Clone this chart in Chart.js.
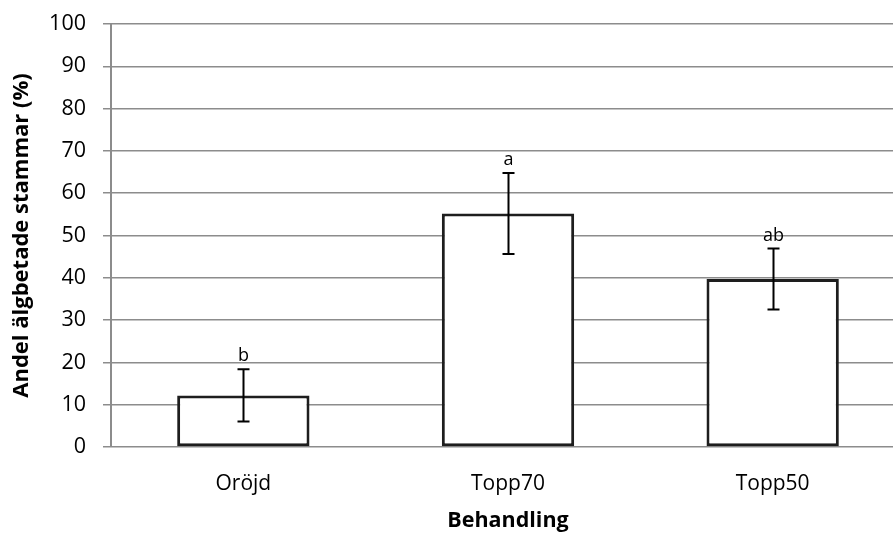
<!DOCTYPE html>
<html>
<head>
<meta charset="utf-8">
<title>Andel älgbetade stammar</title>
<script src="https://cdn.jsdelivr.net/npm/chart.js@4/dist/chart.umd.min.js"></script>
<style>
  html, body { margin: 0; padding: 0; background: #fff; overflow: hidden; }
  #wrap { width: 893px; height: 533px; overflow: hidden; }
</style>
</head>
<body>
<div id="wrap"><canvas id="chart" width="905" height="533"></canvas></div>
<script>
const categories = ['Oröjd', 'Topp70', 'Topp50'];
const shares = [12.2, 55.2, 39.7];
const shareErrors = [6.2, 9.6, 7.2];
const groupLetters = ['b', 'a', 'ab'];
const yTicks = [0, 10, 20, 30, 40, 50, 60, 70, 80, 90, 100];

const FONT = '"Open Sans", "DejaVu Sans", sans-serif';
const GRID = '#8c8c8c';

// error bars plus the significance letters above them
const errorBars = {
  id: 'errorBars',
  afterDatasetsDraw(chart) {
    const ctx = chart.ctx;
    const y = chart.scales.y;
    const meta = chart.getDatasetMeta(0);
    ctx.save();
    ctx.strokeStyle = '#000';
    ctx.lineWidth = 2;
    meta.data.forEach((bar, i) => {
      const x = Math.round(bar.x) + 0.5;
      const top = y.getPixelForValue(shares[i] + shareErrors[i]);
      const bottom = y.getPixelForValue(shares[i] - shareErrors[i]);
      ctx.beginPath();
      ctx.moveTo(x, top);
      ctx.lineTo(x, bottom);
      ctx.moveTo(x - 6, top);
      ctx.lineTo(x + 6, top);
      ctx.moveTo(x - 6, bottom);
      ctx.lineTo(x + 6, bottom);
      ctx.stroke();

      ctx.fillStyle = '#000';
      ctx.font = '18px ' + FONT;
      ctx.textAlign = 'center';
      ctx.textBaseline = 'alphabetic';
      ctx.fillText(groupLetters[i], x, top - 8);
    });
    ctx.restore();
  }
};

new Chart(document.getElementById('chart'), {
  type: 'bar',
  data: {
    labels: categories,
    datasets: [{
      data: shares,
      backgroundColor: '#ffffff',
      borderColor: '#1e1e1e',
      borderWidth: 3,
      borderSkipped: false,
      barPercentage: 0.5,
      categoryPercentage: 1
    }]
  },
  options: {
    responsive: false,
    animation: false,
    devicePixelRatio: 1,
    layout: { padding: { top: 24, left: 0, right: 0, bottom: 0 } },
    plugins: { legend: { display: false }, tooltip: { enabled: false } },
    scales: {
      x: {
        grid: { display: false, drawTicks: false },
        border: { display: false },
        ticks: { color: '#000', font: { family: FONT, size: 21 }, padding: 24 },
        title: {
          display: true,
          text: 'Behandling',
          color: '#000',
          font: { family: FONT, size: 21.5, weight: 'bold', lineHeight: 1 },
          padding: { top: 0, bottom: 1 }
        },
        afterFit(scale) {
          scale.height = 86;
          scale.paddingLeft = 0;
          scale.paddingRight = 0;
        }
      },
      y: {
        min: 0,
        max: 100,
        afterBuildTicks(scale) { scale.ticks = yTicks.map(v => ({ value: v })); },
        grid: { color: GRID, lineWidth: 1.5, tickLength: 8 },
        border: { color: GRID, width: 2 },
        ticks: { color: '#000', font: { family: FONT, size: 21.5 }, padding: 17 },
        title: {
          display: true,
          text: 'Andel älgbetade stammar (%)',
          color: '#000',
          font: { family: FONT, size: 22, weight: 'bold', lineHeight: 1.2 },
          padding: { top: 9, bottom: 0 }
        },
        afterFit(scale) {
          scale.width = 111;
          scale.paddingTop = 0;
          scale.paddingBottom = 0;
        }
      }
    }
  },
  plugins: [errorBars]
});
</script>
</body>
</html>
